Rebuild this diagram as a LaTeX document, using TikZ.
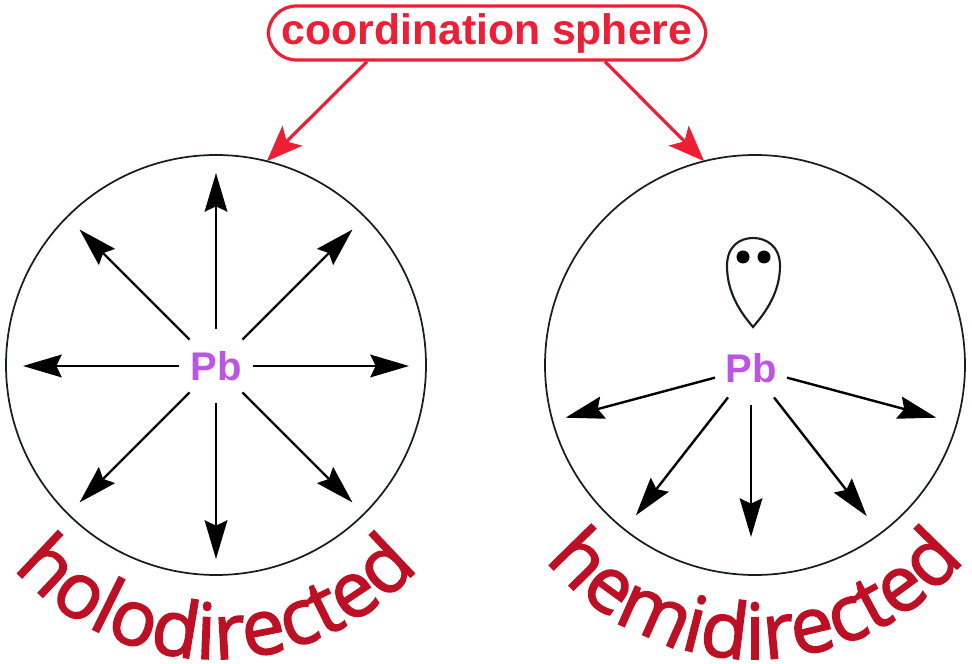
\documentclass[tikz,border=0pt]{standalone}
\usepackage{fontspec}
\setmainfont{Liberation Sans}
\newfontfamily\curvefont{Open Sans}[FakeBold=2]
\usepackage{tikz}
\usetikzlibrary{arrows.meta,calc,decorations.text}
\definecolor{SphereRed}{RGB}{238,30,52}
\definecolor{LabelRed}{RGB}{190,16,36}
\definecolor{LeadPurple}{RGB}{188,84,228}
\definecolor{InkBlack}{RGB}{22,30,30}
\newcommand{\curvestyle}{\curvefont\fontsize{58}{62}\selectfont}

\begin{document}
\begin{tikzpicture}[x=0.75pt, y=0.75pt,
    sphere/.style={draw=InkBlack, circle, line width=1.3pt, minimum size=315pt, inner sep=0pt, outer sep=0pt},
    lead/.style={circle, minimum size=56pt, inner sep=0pt, outer sep=0pt, text=LeadPurple, font=\bfseries\fontsize{30}{32}\selectfont},
    bond/.style={-{Stealth[length=29pt, width=17pt, inset=4pt]}, line width=1.8pt, draw=black},
    pointer/.style={-{Stealth[length=27pt, width=21pt, inset=6pt]}, line width=2.4pt, draw=SphereRed},
    curvelabel/.style={decorate, decoration={text along path, text align=center, text color=LabelRed, text={|\curvestyle|#1}}}]
    \useasboundingbox (0,0) rectangle (972,664);

    \node [draw=SphereRed, line width=2.4pt, rounded corners=21pt, minimum width=328pt, minimum height=40.5pt, inner sep=0pt, text=SphereRed, font=\bfseries\fontsize{32}{34}\selectfont] (coord) at (487,631) {coordination sphere};
    \node [sphere] (holo) at (216,299) {};
    \node [sphere] (hemi) at (755,299) {};
    \node [lead] (pbL) at (216,298) {Pb};
    \node [lead] (pbR) at (751,296) {Pb};

    % holodirected: eight bonds all round
    \foreach \a in {0,45,...,315}
        \draw [bond] (pbL.\a) -- ($(pbL)+(\a:193)$);

    % hemidirected: bonds on one side, lone pair on the other
    \foreach \a/\r in {195/192, 232/187, 270/169, 308/188, 345/192}
        \draw [bond] (pbR.\a) -- ($(pbR)+(\a:\r)$);
    \draw [InkBlack, line width=1.6pt] (753,337) .. controls (740,352) and (727,372) .. (727,398)
        .. controls (727,418) and (740,426) .. (753,426) .. controls (766,426) and (780,418) .. (780,398)
        .. controls (780,372) and (766,352) .. (753,337) -- cycle;
    \fill [black] (743,407) circle [radius=6.5];
    \fill [black] (764,407) circle [radius=6.5];

    \draw [pointer] ($(coord.south)+(-120,0)$) -- (holo.76);
    \draw [pointer] ($(coord.south)+(118,0)$) -- (hemi.104);

    \path [curvelabel=holodirected] ($(holo)+(0,-23)+(195:271)$) arc [start angle=195, end angle=345, radius=271];
    \path [curvelabel=hemidirected] ($(hemi)+(0,-23)+(195:271)$) arc [start angle=195, end angle=345, radius=271];
\end{tikzpicture}
\end{document}
